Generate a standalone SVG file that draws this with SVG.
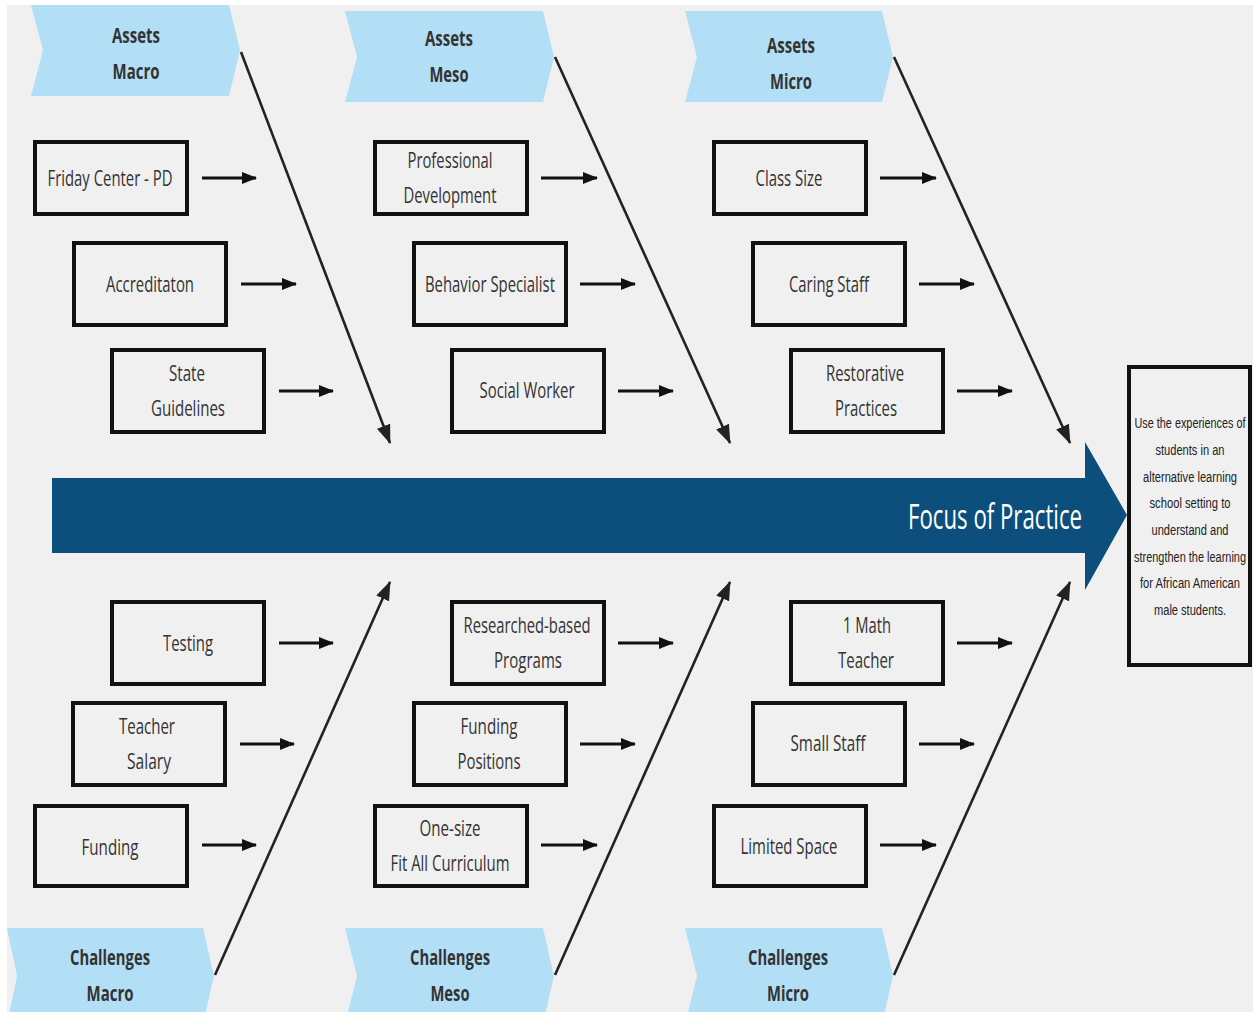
<svg xmlns="http://www.w3.org/2000/svg" width="1253" height="1012" viewBox="0 0 1253 1012">
<defs>
<marker id="ah" markerUnits="userSpaceOnUse" markerWidth="16" markerHeight="12" refX="14" refY="6" orient="auto"><path d="M0,0 L15,6 L0,12 Z" fill="#111"/></marker>
<marker id="ahd" markerUnits="userSpaceOnUse" markerWidth="20" markerHeight="16" refX="18" refY="8" orient="auto"><path d="M0,1 L19,8 L0,15 Z" fill="#222"/></marker>
</defs>
<style>
.chev{fill:#b3dff6}
.ct{font-family:"Open Sans",sans-serif;font-weight:bold;font-size:22px;fill:#333;text-anchor:middle}
.box{fill:#f0f0f0;stroke:#111;stroke-width:4}
.bt{font-family:"Open Sans",sans-serif;font-size:22px;fill:#333;text-anchor:middle}
.sa{stroke:#111;stroke-width:3;fill:none}
.dg{stroke:#222;stroke-width:2.6;fill:none}
.rt{font-family:"Liberation Sans",Arial,sans-serif;font-size:14px;fill:#222;text-anchor:middle}
</style>
<rect x="0" y="0" width="1253" height="1012" fill="#ffffff"/>
<rect x="7" y="5" width="1246" height="1007" fill="#f0f0f0"/>

<g id="spine">
<path d="M52,478 L1085,478 L1085,442 L1127,515 L1085,590 L1085,553 L52,553 Z" fill="#0c4f7c"/>
<text x="995" y="529" font-family="Open Sans, sans-serif" font-size="34" fill="#ffffff" text-anchor="middle" textLength="174" lengthAdjust="spacingAndGlyphs">Focus of Practice</text>
</g>

<g id="goal">
<rect x="1129" y="367" width="121" height="298" fill="#f0f0f0" stroke="#111" stroke-width="4"/>
<text class="rt" x="1190" y="428" textLength="111" lengthAdjust="spacingAndGlyphs">Use the experiences of</text>
<text class="rt" x="1190" y="455" textLength="69" lengthAdjust="spacingAndGlyphs">students in an</text>
<text class="rt" x="1190" y="482" textLength="94" lengthAdjust="spacingAndGlyphs">alternative learning</text>
<text class="rt" x="1190" y="508" textLength="81" lengthAdjust="spacingAndGlyphs">school setting to</text>
<text class="rt" x="1190" y="535" textLength="77" lengthAdjust="spacingAndGlyphs">understand and</text>
<text class="rt" x="1190" y="562" textLength="112" lengthAdjust="spacingAndGlyphs">strengthen the learning</text>
<text class="rt" x="1190" y="588" textLength="100" lengthAdjust="spacingAndGlyphs">for African American</text>
<text class="rt" x="1190" y="615" textLength="72" lengthAdjust="spacingAndGlyphs">male students.</text>
</g>

<g id="assets-macro">
<path class="chev" d="M31,5 L229,5 L240,50 L229,96 L31,96 L43,50 Z"/>
<text class="ct" x="136" y="43" textLength="48" lengthAdjust="spacingAndGlyphs">Assets</text>
<text class="ct" x="136" y="79" textLength="47" lengthAdjust="spacingAndGlyphs">Macro</text>
</g>
<g id="assets-meso">
<path class="chev" d="M345,11 L543,11 L554,57 L543,102 L345,102 L357,57 Z"/>
<text class="ct" x="449" y="46" textLength="48" lengthAdjust="spacingAndGlyphs">Assets</text>
<text class="ct" x="449" y="82" textLength="39" lengthAdjust="spacingAndGlyphs">Meso</text>
</g>
<g id="assets-micro">
<path class="chev" d="M685,11 L882,11 L893,57 L882,102 L685,102 L697,57 Z"/>
<text class="ct" x="791" y="53" textLength="48" lengthAdjust="spacingAndGlyphs">Assets</text>
<text class="ct" x="791" y="89" textLength="42" lengthAdjust="spacingAndGlyphs">Micro</text>
</g>
<g id="challenges-macro">
<path class="chev" d="M7,928 L203,928 L214,976 L203,1024 L7,1024 L17,976 Z"/>
<text class="ct" x="110" y="965" textLength="80" lengthAdjust="spacingAndGlyphs">Challenges</text>
<text class="ct" x="110" y="1001" textLength="47" lengthAdjust="spacingAndGlyphs">Macro</text>
</g>
<g id="challenges-meso">
<path class="chev" d="M345,928 L543,928 L554,976 L543,1024 L345,1024 L357,976 Z"/>
<text class="ct" x="450" y="965" textLength="80" lengthAdjust="spacingAndGlyphs">Challenges</text>
<text class="ct" x="450" y="1001" textLength="39" lengthAdjust="spacingAndGlyphs">Meso</text>
</g>
<g id="challenges-micro">
<path class="chev" d="M685,928 L882,928 L893,976 L882,1024 L685,1024 L697,976 Z"/>
<text class="ct" x="788" y="965" textLength="80" lengthAdjust="spacingAndGlyphs">Challenges</text>
<text class="ct" x="788" y="1001" textLength="42" lengthAdjust="spacingAndGlyphs">Micro</text>
</g>

<g id="friday-center">
<rect class="box" x="35" y="142" width="152" height="72"/>
<text class="bt" x="110" y="186" textLength="125" lengthAdjust="spacingAndGlyphs">Friday Center - PD</text>
</g>
<g id="accreditaton">
<rect class="box" x="74" y="243" width="152" height="82"/>
<text class="bt" x="150" y="292" textLength="88" lengthAdjust="spacingAndGlyphs">Accreditaton</text>
</g>
<g id="state-guidelines">
<rect class="box" x="112" y="350" width="152" height="82"/>
<text class="bt" x="187" y="381" textLength="36" lengthAdjust="spacingAndGlyphs">State</text>
<text class="bt" x="188" y="416" textLength="74" lengthAdjust="spacingAndGlyphs">Guidelines</text>
</g>
<g id="professional-development">
<rect class="box" x="375" y="142" width="152" height="72"/>
<text class="bt" x="450" y="168" textLength="85" lengthAdjust="spacingAndGlyphs">Professional</text>
<text class="bt" x="450" y="203" textLength="93" lengthAdjust="spacingAndGlyphs">Development</text>
</g>
<g id="behavior-specialist">
<rect class="box" x="414" y="243" width="152" height="82"/>
<text class="bt" x="490" y="292" textLength="130" lengthAdjust="spacingAndGlyphs">Behavior Specialist</text>
</g>
<g id="social-worker">
<rect class="box" x="452" y="350" width="152" height="82"/>
<text class="bt" x="527" y="398" textLength="95" lengthAdjust="spacingAndGlyphs">Social Worker</text>
</g>
<g id="class-size">
<rect class="box" x="714" y="142" width="152" height="72"/>
<text class="bt" x="789" y="186" textLength="67" lengthAdjust="spacingAndGlyphs">Class Size</text>
</g>
<g id="caring-staff">
<rect class="box" x="753" y="243" width="152" height="82"/>
<text class="bt" x="829" y="292" textLength="80" lengthAdjust="spacingAndGlyphs">Caring Staff</text>
</g>
<g id="restorative-practices">
<rect class="box" x="791" y="350" width="152" height="82"/>
<text class="bt" x="865" y="381" textLength="78" lengthAdjust="spacingAndGlyphs">Restorative</text>
<text class="bt" x="866" y="416" textLength="62" lengthAdjust="spacingAndGlyphs">Practices</text>
</g>

<g id="testing">
<rect class="box" x="112" y="602" width="152" height="82"/>
<text class="bt" x="188" y="651" textLength="50" lengthAdjust="spacingAndGlyphs">Testing</text>
</g>
<g id="teacher-salary">
<rect class="box" x="73" y="703" width="152" height="82"/>
<text class="bt" x="147" y="734" textLength="56" lengthAdjust="spacingAndGlyphs">Teacher</text>
<text class="bt" x="149" y="769" textLength="44" lengthAdjust="spacingAndGlyphs">Salary</text>
</g>
<g id="funding-macro">
<rect class="box" x="35" y="806" width="152" height="80"/>
<text class="bt" x="110" y="855" textLength="57" lengthAdjust="spacingAndGlyphs">Funding</text>
</g>
<g id="researched-based">
<rect class="box" x="452" y="602" width="152" height="82"/>
<text class="bt" x="527" y="633" textLength="127" lengthAdjust="spacingAndGlyphs">Researched-based</text>
<text class="bt" x="528" y="668" textLength="68" lengthAdjust="spacingAndGlyphs">Programs</text>
</g>
<g id="funding-positions">
<rect class="box" x="414" y="703" width="152" height="82"/>
<text class="bt" x="489" y="734" textLength="57" lengthAdjust="spacingAndGlyphs">Funding</text>
<text class="bt" x="489" y="769" textLength="63" lengthAdjust="spacingAndGlyphs">Positions</text>
</g>
<g id="one-size">
<rect class="box" x="375" y="806" width="152" height="80"/>
<text class="bt" x="450" y="836" textLength="61" lengthAdjust="spacingAndGlyphs">One-size</text>
<text class="bt" x="450" y="871" textLength="119" lengthAdjust="spacingAndGlyphs">Fit All Curriculum</text>
</g>
<g id="math-teacher">
<rect class="box" x="791" y="602" width="152" height="82"/>
<text class="bt" x="867" y="633" textLength="48" lengthAdjust="spacingAndGlyphs">1 Math</text>
<text class="bt" x="866" y="668" textLength="56" lengthAdjust="spacingAndGlyphs">Teacher</text>
</g>
<g id="small-staff">
<rect class="box" x="753" y="703" width="152" height="82"/>
<text class="bt" x="828" y="751" textLength="75" lengthAdjust="spacingAndGlyphs">Small Staff</text>
</g>
<g id="limited-space">
<rect class="box" x="714" y="806" width="152" height="80"/>
<text class="bt" x="789" y="854" textLength="97" lengthAdjust="spacingAndGlyphs">Limited Space</text>
</g>

<g id="connectors">
<line class="dg" x1="241" y1="52" x2="390" y2="443" marker-end="url(#ahd)"/>
<line class="dg" x1="555" y1="57" x2="730" y2="443" marker-end="url(#ahd)"/>
<line class="dg" x1="894" y1="57" x2="1070" y2="443" marker-end="url(#ahd)"/>
<line class="dg" x1="215" y1="975" x2="390" y2="582" marker-end="url(#ahd)"/>
<line class="dg" x1="555" y1="975" x2="730" y2="582" marker-end="url(#ahd)"/>
<line class="dg" x1="894" y1="975" x2="1070" y2="582" marker-end="url(#ahd)"/>

<line class="sa" x1="202" y1="178" x2="256" y2="178" marker-end="url(#ah)"/>
<line class="sa" x1="241" y1="284" x2="296" y2="284" marker-end="url(#ah)"/>
<line class="sa" x1="279" y1="391" x2="333" y2="391" marker-end="url(#ah)"/>
<line class="sa" x1="541" y1="178" x2="597" y2="178" marker-end="url(#ah)"/>
<line class="sa" x1="580" y1="284" x2="635" y2="284" marker-end="url(#ah)"/>
<line class="sa" x1="618" y1="391" x2="673" y2="391" marker-end="url(#ah)"/>
<line class="sa" x1="880" y1="178" x2="936" y2="178" marker-end="url(#ah)"/>
<line class="sa" x1="919" y1="284" x2="974" y2="284" marker-end="url(#ah)"/>
<line class="sa" x1="957" y1="391" x2="1012" y2="391" marker-end="url(#ah)"/>

<line class="sa" x1="279" y1="643" x2="333" y2="643" marker-end="url(#ah)"/>
<line class="sa" x1="240" y1="744" x2="294" y2="744" marker-end="url(#ah)"/>
<line class="sa" x1="202" y1="845" x2="256" y2="845" marker-end="url(#ah)"/>
<line class="sa" x1="618" y1="643" x2="673" y2="643" marker-end="url(#ah)"/>
<line class="sa" x1="580" y1="744" x2="635" y2="744" marker-end="url(#ah)"/>
<line class="sa" x1="541" y1="845" x2="597" y2="845" marker-end="url(#ah)"/>
<line class="sa" x1="957" y1="643" x2="1012" y2="643" marker-end="url(#ah)"/>
<line class="sa" x1="919" y1="744" x2="974" y2="744" marker-end="url(#ah)"/>
<line class="sa" x1="880" y1="845" x2="936" y2="845" marker-end="url(#ah)"/>
</g>
</svg>
